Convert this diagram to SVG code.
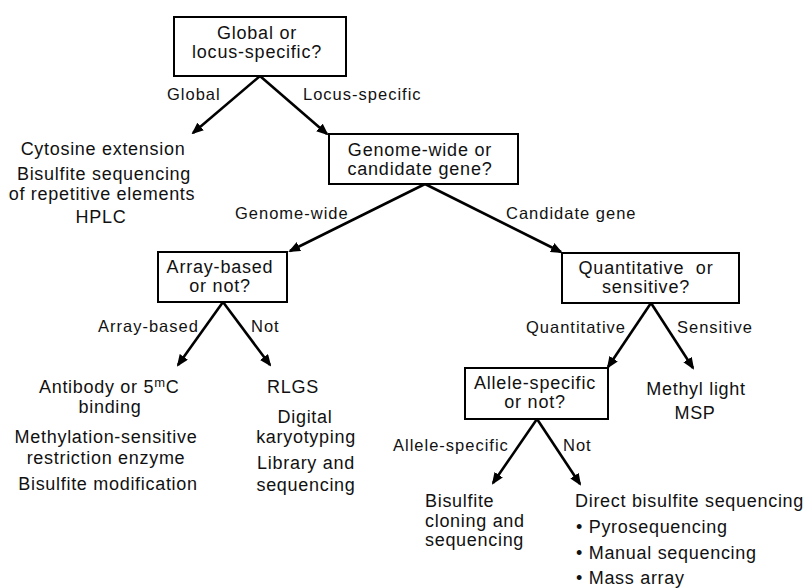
<svg xmlns="http://www.w3.org/2000/svg" width="808" height="588" viewBox="0 0 808 588">
<defs>
<marker id="ah" viewBox="0 0 12 10" refX="10" refY="5" markerWidth="12" markerHeight="10" markerUnits="userSpaceOnUse" orient="auto">
<path d="M0,0 L12,5 L0,10 z" fill="#000"/>
</marker>
<style>
text { font-family: "Liberation Sans", Arial, Helvetica, sans-serif; fill: #111; }
.box { fill: #fff; stroke: #000; stroke-width: 2; }
.q { font-size: 18px; letter-spacing: 0.8px; text-anchor: middle; }
.r { font-size: 18px; letter-spacing: 0.7px; text-anchor: middle; }
.rl { font-size: 18px; letter-spacing: 0.7px; text-anchor: start; }
.lab { font-size: 16.5px; letter-spacing: 1px; }
.c line { stroke: #000; stroke-width: 2.6; marker-end: url(#ah); }
</style>
</defs>
<rect width="808" height="588" fill="#fff"/>

<g id="connectors" class="c">
<line x1="260" y1="76" x2="193" y2="133"/>
<line x1="260" y1="76" x2="327" y2="134"/>
<line x1="425" y1="184" x2="290" y2="251"/>
<line x1="425" y1="184" x2="561" y2="252"/>
<line x1="223" y1="302" x2="178" y2="365"/>
<line x1="223" y1="302" x2="270" y2="365"/>
<line x1="651" y1="303" x2="608" y2="367"/>
<line x1="651" y1="303" x2="693" y2="368"/>
<line x1="537" y1="419" x2="493" y2="483"/>
<line x1="537" y1="419" x2="580" y2="484"/>
</g>

<g id="edge-labels">
<text class="lab" x="167" y="100">Global</text>
<text class="lab" x="303" y="100">Locus-specific</text>
<text class="lab" x="235" y="219">Genome-wide</text>
<text class="lab" x="506" y="219">Candidate gene</text>
<text class="lab" x="98" y="332">Array-based</text>
<text class="lab" x="251" y="332">Not</text>
<text class="lab" x="526" y="333">Quantitative</text>
<text class="lab" x="677" y="333">Sensitive</text>
<text class="lab" x="393" y="451">Allele-specific</text>
<text class="lab" x="563" y="451">Not</text>
</g>

<g id="q-global">
<rect class="box" x="174" y="17" width="172" height="59"/>
<text class="q" x="257" y="39">Global or</text>
<text class="q" x="257" y="58">locus-specific?</text>
</g>

<g id="q-genome">
<rect class="box" x="329" y="134" width="189" height="50"/>
<text class="q" x="420" y="156">Genome-wide or</text>
<text class="q" x="420" y="175">candidate gene?</text>
</g>

<g id="q-array">
<rect class="box" x="158" y="252" width="129" height="50"/>
<text class="q" x="220" y="273">Array-based</text>
<text class="q" x="220" y="292">or not?</text>
</g>

<g id="q-quant">
<rect class="box" x="562" y="253" width="177" height="50"/>
<text class="q" x="646" y="274" xml:space="preserve">Quantitative  or</text>
<text class="q" x="646" y="293">sensitive?</text>
</g>

<g id="q-allele">
<rect class="box" x="465" y="368" width="143" height="51"/>
<text class="q" x="535" y="389">Allele-specific</text>
<text class="q" x="535" y="408">or not?</text>
</g>

<g id="res-global">
<text class="r" x="103" y="155">Cytosine extension</text>
<text class="r" x="104" y="180">Bisulfite sequencing</text>
<text class="r" x="102" y="200">of repetitive elements</text>
<text class="r" x="101" y="223">HPLC</text>
</g>

<g id="res-array">
<text class="rl" x="39" y="393" letter-spacing="1.3">Antibody or 5<tspan font-size="13" dy="-6">m</tspan><tspan dy="6">C</tspan></text>
<text class="r" x="110" y="413">binding</text>
<text class="r" x="106" y="443">Methylation-sensitive</text>
<text class="r" x="106" y="464">restriction enzyme</text>
<text class="r" x="108" y="490">Bisulfite modification</text>
</g>

<g id="res-notarray">
<text class="r" x="293" y="393">RLGS</text>
<text class="r" x="305" y="423">Digital</text>
<text class="r" x="306" y="443">karyotyping</text>
<text class="r" x="306" y="469">Library and</text>
<text class="r" x="306" y="491">sequencing</text>
</g>

<g id="res-sensitive">
<text class="r" x="696" y="395">Methyl light</text>
<text class="r" x="695" y="419">MSP</text>
</g>

<g id="res-allele">
<text class="rl" x="425" y="507">Bisulfite</text>
<text class="rl" x="425" y="527">cloning and</text>
<text class="rl" x="425" y="546">sequencing</text>
</g>

<g id="res-direct">
<text class="rl" x="575" y="507">Direct bisulfite sequencing</text>
<text class="rl" x="576" y="533">• Pyrosequencing</text>
<text class="rl" x="576" y="559">• Manual sequencing</text>
<text class="rl" x="576" y="584">• Mass array</text>
</g>
</svg>
